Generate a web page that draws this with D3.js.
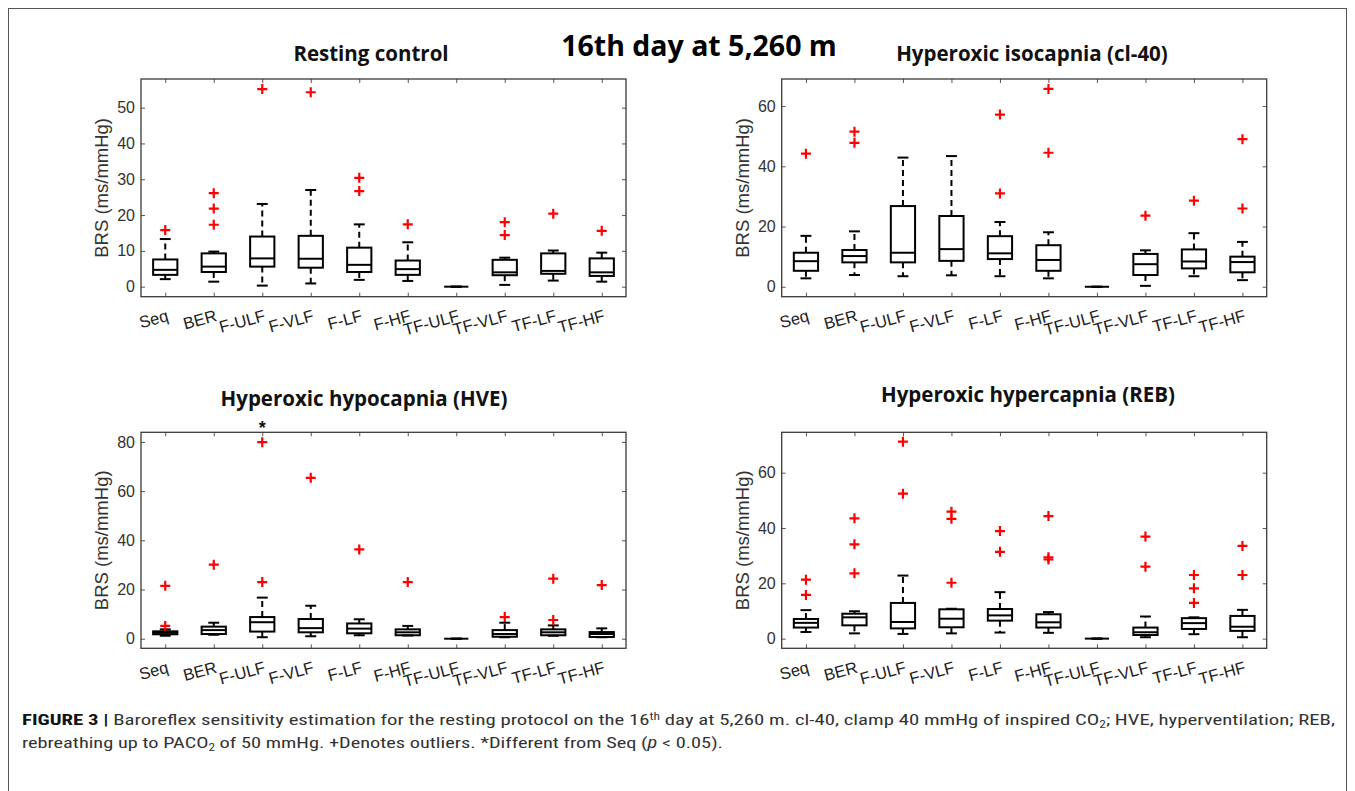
<!DOCTYPE html>
<html>
<head>
<meta charset="utf-8">
<script src="https://cdn.jsdelivr.net/npm/d3@7"></script>
<style>
  body { margin: 0; background: #fff; }
  svg { display: block; }
</style>
</head>
<body>
<svg id="fig" width="1355" height="791"></svg>
<script>
const categories = ["Seq", "BER", "F-ULF", "F-VLF", "F-LF", "F-HF", "TF-ULF", "TF-VLF", "TF-LF", "TF-HF"];

// each row: [lower whisker, q1, median, q3, upper whisker]
const restStats = [
  [2.1, 3.3, 4.7, 7.6, 13.3], [1.4, 4.1, 5.6, 9.3, 9.8], [0.3, 5.6, 7.9, 14.0, 23.1],
  [0.9, 5.3, 7.8, 14.2, 27.0], [1.9, 4.1, 6.1, 10.9, 17.4], [1.6, 3.3, 4.9, 7.3, 12.4],
  [0, 0, 0, 0, 0], [0.5, 3.2, 4.0, 7.5, 8.1], [1.7, 3.6, 4.4, 9.3, 10.1], [1.4, 3.0, 4.0, 7.9, 9.5]
];
const restOutliers = [[15.8], [17.3, 21.8, 26.1], [55.2], [54.3], [26.7, 30.4], [17.4], [], [14.4, 18.0], [20.4], [15.6]];

const isoStats = [
  [2.8, 5.3, 8.5, 11.3, 16.9], [3.9, 8.1, 10.2, 12.2, 18.4], [3.5, 8.1, 11.3, 26.8, 42.9],
  [3.8, 8.6, 12.5, 23.5, 43.4], [3.5, 9.2, 11.1, 16.8, 21.5], [2.8, 5.3, 8.9, 13.8, 18.1],
  [0, 0, 0, 0, 0], [0.3, 3.9, 7.5, 10.9, 12.1], [3.5, 6.1, 8.4, 12.4, 17.8], [2.2, 4.8, 8.2, 10.0, 14.9]
];
const isoOutliers = [[44.2], [47.8, 51.5], [], [], [31.0, 57.2], [44.5, 65.7], [], [23.6], [28.6], [26.0, 49.0]];

const hypoStats = [
  [1.2, 1.8, 2.4, 3.0, 3.8], [1.6, 1.9, 3.5, 4.9, 6.5], [0.6, 2.9, 6.7, 8.8, 16.7],
  [1.0, 2.6, 4.3, 8.0, 13.4], [1.4, 2.2, 4.1, 6.2, 7.9], [1.3, 1.4, 2.6, 3.8, 5.2],
  [0, 0, 0, 0, 0], [0.6, 0.8, 1.9, 3.5, 6.5], [1.2, 1.4, 2.6, 3.8, 5.4], [0.6, 0.7, 1.9, 2.7, 4.2]
];
const hypoOutliers = [[5.2, 21.5], [30.1], [23.0, 79.9], [65.4], [36.3], [23.0], [], [8.8], [7.6, 24.4], [21.8]];
const hypoSignificant = ["F-ULF"];

const hyperStats = [
  [2.4, 4.0, 5.7, 7.1, 10.3], [1.9, 4.8, 7.7, 9.0, 9.9], [1.7, 3.7, 6.0, 12.9, 22.8],
  [1.9, 4.1, 7.2, 10.6, 10.8], [2.2, 6.5, 8.4, 10.7, 16.8], [2.1, 4.0, 5.9, 8.8, 9.6],
  [0, 0, 0, 0, 0], [0.5, 1.3, 2.3, 4.0, 8.0], [1.6, 3.5, 5.6, 7.4, 7.7], [0.5, 2.8, 4.3, 8.2, 10.4]
];
const hyperOutliers = [[15.8, 21.3], [23.6, 34.1, 43.5], [52.4, 71.2], [20.2, 43.3, 45.9], [31.4, 38.9],
  [28.6, 29.4, 44.3], [], [26.0, 36.9], [12.9, 18.2, 23.0], [23.0, 33.5]];

const restTicks = [0, 10, 20, 30, 40, 50];
const isoTicks = [0, 20, 40, 60];
const hypoTicks = [0, 20, 40, 60, 80];
const hyperTicks = [0, 20, 40, 60];

const yLabel = "BRS (ms/mmHg)";

const panels = [
  {title: "Resting control", stats: restStats, out: restOutliers, ticks: restTicks, ylim: [-2.8, 58],
   x0: 141, x1: 626, y0: 79, y1: 296.7, tx: 371, ty: 61, sig: []},
  {title: "Hyperoxic isocapnia (cl-40)", stats: isoStats, out: isoOutliers, ticks: isoTicks, ylim: [-3.3, 69],
   x0: 781.7, x1: 1266.7, y0: 79, y1: 296.7, tx: 1032, ty: 61, sig: []},
  {title: "Hyperoxic hypocapnia (HVE)", stats: hypoStats, out: hypoOutliers, ticks: hypoTicks, ylim: [-3.9, 83.9],
   x0: 141, x1: 626, y0: 432.3, y1: 648.3, tx: 364, ty: 406, sig: hypoSignificant},
  {title: "Hyperoxic hypercapnia (REB)", stats: hyperStats, out: hyperOutliers, ticks: hyperTicks, ylim: [-3.5, 74.6],
   x0: 781.7, x1: 1266.7, y0: 432.3, y1: 648.3, tx: 1028, ty: 402, sig: []}
];

const svg = d3.select("#fig");

// outer frame of the figure
svg.append("rect")
  .attr("x", 8.5).attr("y", 8.5).attr("width", 1338).attr("height", 800)
  .attr("fill", "none").attr("stroke", "#555").attr("stroke-width", 1);

svg.append("text")
  .attr("x", 699).attr("y", 56).attr("text-anchor", "middle")
  .attr("font-family", "Open Sans, Noto Sans, sans-serif").attr("font-weight", 700)
  .attr("font-size", 28.5).attr("fill", "#000")
  .text("16th day at 5,260 m");

panels.forEach(p => {
  const g = svg.append("g");
  const x = d3.scaleLinear().domain([0.5, categories.length + 0.5]).range([p.x0, p.x1]);
  const y = d3.scaleLinear().domain(p.ylim).range([p.y1, p.y0]);
  const step = x(2) - x(1);
  const bw = step * 0.5, cw = bw * 0.45;

  // title
  g.append("text")
    .attr("x", p.tx).attr("y", p.ty).attr("text-anchor", "middle")
    .attr("font-family", "Open Sans, Noto Sans, sans-serif").attr("font-weight", 700)
    .attr("font-size", 20.5).attr("fill", "#111")
    .text(p.title);

  // axes, ticks pointing inward on all four sides
  const left = g.append("g").attr("transform", `translate(${p.x0},0)`)
    .call(d3.axisLeft(y).tickValues(p.ticks).tickSize(-4).tickPadding(6));
  left.selectAll("text").attr("font-family", "Liberation Sans, Arial, sans-serif")
    .attr("font-size", 16).attr("fill", "#333");
  g.append("g").attr("transform", `translate(${p.x1},0)`)
    .call(d3.axisRight(y).tickValues(p.ticks).tickSize(-4).tickFormat(""));
  g.append("g").attr("transform", `translate(0,${p.y1})`)
    .call(d3.axisBottom(x).tickValues(d3.range(1, categories.length + 1)).tickSize(-4).tickFormat(""));
  g.append("g").attr("transform", `translate(0,${p.y0})`)
    .call(d3.axisTop(x).tickValues(d3.range(1, categories.length + 1)).tickSize(-4).tickFormat(""));
  g.selectAll(".domain").remove();
  g.selectAll(".tick line").attr("stroke", "#555");

  g.append("rect")
    .attr("x", p.x0).attr("y", p.y0).attr("width", p.x1 - p.x0).attr("height", p.y1 - p.y0)
    .attr("fill", "none").attr("stroke", "#3a3a3a").attr("stroke-width", 1.3);

  // slanted category labels
  g.selectAll(".xlab").data(categories).join("text")
    .attr("class", "xlab")
    .attr("transform", (d, i) => `translate(${x(i + 1) + 4},${p.y1 + 24}) rotate(-15)`)
    .attr("text-anchor", "end")
    .attr("font-family", "Liberation Sans, Arial, sans-serif")
    .attr("font-size", 16.5).attr("fill", "#222")
    .text(d => d);

  // y label
  g.append("text")
    .attr("transform", `translate(${p.x0 - 33},${(p.y0 + p.y1) / 2}) rotate(-90)`)
    .attr("text-anchor", "middle")
    .attr("font-family", "Liberation Sans, Arial, sans-serif")
    .attr("font-size", 18.5).attr("fill", "#333")
    .text(yLabel);

  // boxes
  const box = g.selectAll(".box").data(p.stats).join("g").attr("class", "box")
    .attr("transform", (d, i) => `translate(${x(i + 1)},0)`);
  const black = s => s.attr("stroke", "#000").attr("stroke-width", 2).attr("fill", "none");

  box.append("line").attr("x1", 0).attr("x2", 0)
    .attr("y1", d => y(d[3])).attr("y2", d => y(d[4]))
    .call(black).attr("stroke-dasharray", "6,4");
  box.append("line").attr("x1", 0).attr("x2", 0)
    .attr("y1", d => y(d[1])).attr("y2", d => y(d[0]))
    .call(black).attr("stroke-dasharray", "6,4");
  box.append("line").attr("x1", -cw / 2).attr("x2", cw / 2)
    .attr("y1", d => y(d[4])).attr("y2", d => y(d[4])).call(black);
  box.append("line").attr("x1", -cw / 2).attr("x2", cw / 2)
    .attr("y1", d => y(d[0])).attr("y2", d => y(d[0])).call(black);
  box.append("rect").attr("x", -bw / 2).attr("width", bw)
    .attr("y", d => y(d[3])).attr("height", d => y(d[1]) - y(d[3]))
    .call(black);
  box.append("line").attr("x1", -bw / 2).attr("x2", bw / 2)
    .attr("y1", d => y(d[2])).attr("y2", d => y(d[2])).call(black);

  // outliers
  const pts = p.out.flatMap((vals, i) => vals.map(v => ({i, v})));
  g.selectAll(".out").data(pts).join("path")
    .attr("class", "out")
    .attr("transform", d => `translate(${x(d.i + 1)},${y(d.v)})`)
    .attr("d", "M-5,0H5M0,-5V5")
    .attr("stroke", "#f00").attr("stroke-width", 2.2).attr("fill", "none");

  // significance marks
  g.selectAll(".sig").data(p.sig).join("text")
    .attr("class", "sig")
    .attr("x", d => x(categories.indexOf(d) + 1)).attr("y", p.y0 + 2)
    .attr("text-anchor", "middle")
    .attr("font-family", "Liberation Sans, Arial, sans-serif")
    .attr("font-size", 18).attr("font-weight", 700).attr("fill", "#111")
    .text("*");
});

// caption
const cap1 = svg.append("text")
  .attr("x", 22).attr("y", 725)
  .attr("font-family", "Liberation Sans Narrow, Roboto Condensed, Liberation Sans, sans-serif")
  .attr("font-size", 15.5).attr("fill", "#333")
  .attr("textLength", 1313).attr("lengthAdjust", "spacingAndGlyphs");
cap1.append("tspan").attr("font-weight", 700).attr("fill", "#111").text("FIGURE 3 | ");
cap1.append("tspan").text("Baroreflex sensitivity estimation for the resting protocol on the 16");
cap1.append("tspan").attr("dy", -5).attr("font-size", 10).text("th");
cap1.append("tspan").attr("dy", 5).text(" day at 5,260 m. cl-40, clamp 40 mmHg of inspired CO");
cap1.append("tspan").attr("dy", 3).attr("font-size", 10).text("2");
cap1.append("tspan").attr("dy", -3).text("; HVE, hyperventilation; REB,");

const cap2 = svg.append("text")
  .attr("x", 22).attr("y", 748)
  .attr("font-family", "Liberation Sans Narrow, Roboto Condensed, Liberation Sans, sans-serif")
  .attr("font-size", 15.5).attr("fill", "#333")
  .attr("textLength", 701).attr("lengthAdjust", "spacingAndGlyphs");
cap2.append("tspan").text("rebreathing up to PACO");
cap2.append("tspan").attr("dy", 3).attr("font-size", 10).text("2");
cap2.append("tspan").attr("dy", -3).text(" of 50 mmHg. +Denotes outliers. *Different from Seq (");
cap2.append("tspan").attr("font-style", "italic").text("p");
cap2.append("tspan").text(" < 0.05).");
</script>
</body>
</html>
